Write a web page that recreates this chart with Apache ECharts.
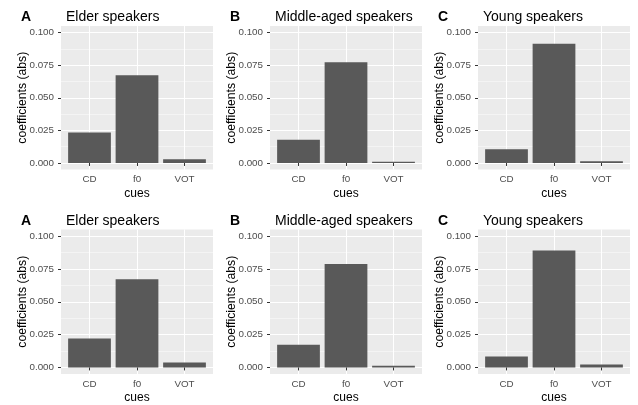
<!DOCTYPE html>
<html>
<head>
<meta charset="utf-8">
<script src="https://cdn.jsdelivr.net/npm/echarts@6/dist/echarts.min.js"></script>
<style>
  html, body { margin: 0; padding: 0; background: #fff; }
  #main { width: 638px; height: 405px; }
</style>
</head>
<body>
<div id="main"></div>
<script>
var cues = ['CD', 'f0', 'VOT'];
var tags = ['A', 'B', 'C'];
var groups = ['Elder speakers', 'Middle-aged speakers', 'Young speakers'];
var yTicks = [0, 0.025, 0.05, 0.075, 0.1];
var yMinor = [0.0125, 0.0375, 0.0625, 0.0875];

// top row
var elder1 = [0.0234, 0.0672, 0.0028];
var middle1 = [0.0179, 0.0772, 0.0010];
var young1 = [0.0105, 0.0913, 0.0013];
// bottom row
var elder2 = [0.0220, 0.0671, 0.0038];
var middle2 = [0.0172, 0.0787, 0.0013];
var young2 = [0.0084, 0.0891, 0.0023];

var rows = [[elder1, middle1, young1], [elder2, middle2, young2]];

var chart = echarts.init(document.getElementById('main'));
var font = 'Liberation Sans, Arial, sans-serif';

var colLeft = [61, 270, 478];
var rowTop = [26, 229.5];
var rowH = [143.5, 144.5];
var panelW = 152;

var grids = [], xAxes = [], yAxes = [], series = [], titles = [];

rows.forEach(function (row, r) {
    row.forEach(function (vals, c) {
        var gi = grids.length;
        grids.push({
            left: colLeft[c], top: rowTop[r], width: panelW, height: rowH[r],
            show: true, backgroundColor: '#EBEBEB', borderWidth: 0
        });
        xAxes.push({
            type: 'value', gridIndex: gi, min: 0.4, max: 3.6,
            name: 'cues', nameLocation: 'middle', nameGap: 18, nameMoveOverlap: false,
            nameTextStyle: { fontFamily: font, fontSize: 12, color: '#000' },
            axisLine: { show: false },
            axisTick: { show: true, length: 3, customValues: [1, 2, 3], lineStyle: { color: '#333', width: 1 } },
            axisLabel: {
                customValues: [1, 2, 3], margin: 5, fontFamily: font, fontSize: 9.8, color: '#4D4D4D',
                formatter: function (v) { return cues[Math.round(v) - 1]; }
            },
            splitLine: { show: true, lineStyle: { color: '#fff', width: 1.1 } }
        });
        yAxes.push({
            type: 'value', gridIndex: gi, min: -0.005, max: 0.105,
            name: 'coefficients (abs)', nameLocation: 'middle', nameGap: 32, nameMoveOverlap: false,
            nameTextStyle: { fontFamily: font, fontSize: 12.2, color: '#000' },
            axisLine: { show: false },
            axisTick: { show: true, length: 3, customValues: yTicks, lineStyle: { color: '#333', width: 1 } },
            axisLabel: {
                customValues: yTicks, margin: 7, fontFamily: font, fontSize: 9.8, color: '#4D4D4D',
                formatter: function (v) { return v.toFixed(3); }
            },
            splitLine: { show: true, lineStyle: { color: '#fff', width: 1.1 } }
        });
        var yi = yAxes.length - 1;
        yAxes.push({
            type: 'value', gridIndex: gi, min: -0.005, max: 0.105, position: 'left',
            axisLine: { show: false },
            axisTick: { show: false, customValues: yMinor },
            axisLabel: { show: false, customValues: yMinor },
            splitLine: { show: true, lineStyle: { color: '#FAFAFA', width: 0.6 } }
        });
        series.push({
            type: 'bar', xAxisIndex: gi, yAxisIndex: yi,
            barWidth: 0.9 * panelW / 3.2,
            itemStyle: { color: '#595959' },
            silent: true,
            data: vals.map(function (v, k) { return [k + 1, v]; })
        });
        var ty = r === 0 ? 5 : 209;
        titles.push({
            text: tags[c], left: colLeft[c] - 45, top: ty,
            textStyle: { fontFamily: font, fontSize: 14, fontWeight: 'bold', color: '#000' }
        });
        titles.push({
            text: groups[c], left: colLeft[c], top: ty,
            textStyle: { fontFamily: font, fontSize: 14, fontWeight: 'normal', color: '#000' }
        });
    });
});

chart.setOption({
    backgroundColor: '#fff',
    animation: false,
    title: titles,
    grid: grids,
    xAxis: xAxes,
    yAxis: yAxes,
    series: series
});
</script>
</body>
</html>
